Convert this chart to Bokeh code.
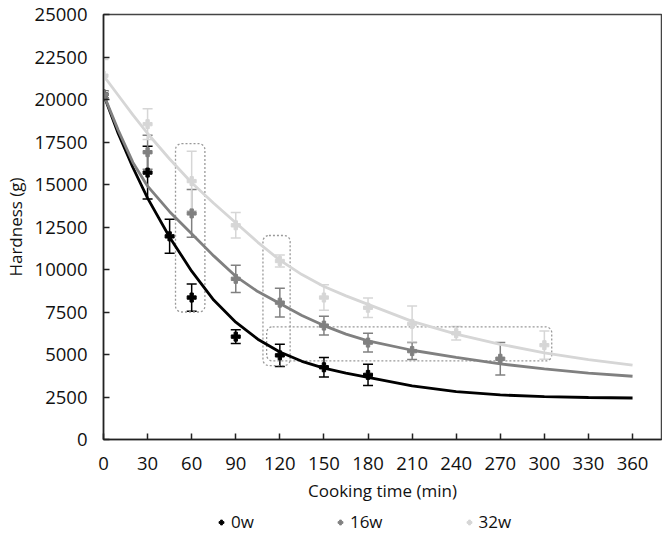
from bokeh.plotting import figure
from bokeh.layouts import column
from bokeh.models import (Range1d, FixedTicker, Whisker, ColumnDataSource, Legend,
                          LegendItem, TeeHead)
from bokeh.embed import file_html
from bokeh.resources import INLINE

# ---------------- data ----------------
series_names = ["0w", "16w", "32w"]

time_0w = [0, 30, 45, 60, 90, 120, 150, 180]
hard_0w = [20300, 15700, 11950, 8350, 6050, 4950, 4250, 3800]
err_0w = [200, 1550, 1000, 800, 400, 650, 580, 620]

time_16w = [0, 30, 60, 90, 120, 150, 180, 210, 270]
hard_16w = [20300, 16900, 13300, 9450, 8050, 6700, 5700, 5200, 4750]
err_16w = [200, 1000, 1400, 800, 850, 550, 550, 500, 950]

time_32w = [0, 30, 60, 90, 120, 150, 180, 210, 240, 300]
hard_32w = [21400, 18550, 15200, 12600, 10500, 8350, 7750, 6800, 6250, 5550]
err_32w = [950, 900, 1750, 750, 350, 750, 570, 1050, 400, 830]

# fitted curves
curve_time = [0, 10, 20, 30, 45, 60, 75, 90, 105, 120, 135, 150, 165, 180,
              210, 240, 270, 300, 330, 360]
curve_0w = [20300, 18000, 16000, 14200, 11900, 9900, 8200, 6900, 5900, 5150,
            4600, 4200, 3900, 3650, 3150, 2820, 2620, 2520, 2470, 2440]
curve_16w = [20300, 18200, 16300, 14900, 13400, 12100, 10800, 9600, 8700, 8000,
             7300, 6700, 6200, 5800, 5250, 4830, 4450, 4150, 3900, 3720]
curve_32w = [21400, 20250, 19100, 18000, 16500, 15100, 13900, 12750, 11600, 10550,
             9700, 9000, 8450, 7950, 6950, 6200, 5600, 5100, 4700, 4370]

# dotted highlight boxes (time range, hardness range)
box_left = [49, 108.5, 111]
box_right = [69, 127, 305]
box_bottom = [7500, 4350, 4620]
box_top = [17400, 12000, 6630]

x_ticks = list(range(0, 361, 30))
y_ticks = list(range(0, 25001, 2500))

# ---------------- figure ----------------
FONT = "Open Sans"
FS = "18.5px"
colors = ["#000000", "#808080", "#d6d6d6"]

p = figure(width=662, height=508, output_backend="svg", toolbar_location=None,
           x_range=Range1d(0, 379.7), y_range=Range1d(0, 25000),
           min_border_left=102, min_border_right=1, min_border_top=14,
           min_border_bottom=69)
p.xgrid.visible = False
p.ygrid.visible = False
p.outline_line_color = "#444444"
p.outline_line_width = 1.5

for ax in (p.xaxis[0], p.yaxis[0]):
    ax.axis_line_color = "#222222"
    ax.axis_line_width = 1.5
    ax.major_tick_line_color = "#222222"
    ax.major_tick_line_width = 1.5
    ax.major_tick_in = 6
    ax.major_tick_out = 0
    ax.minor_tick_line_color = None
    ax.major_label_text_font = FONT
    ax.major_label_text_font_size = FS
    ax.major_label_text_color = "#111111"
    ax.axis_label_text_font = FONT
    ax.axis_label_text_font_size = "17px"
    ax.axis_label_text_font_style = "normal"
    ax.axis_label_text_color = "#111111"

p.xaxis.ticker = FixedTicker(ticks=x_ticks)
p.yaxis.ticker = FixedTicker(ticks=y_ticks)
p.xaxis.axis_label = "Cooking time (min)"
p.yaxis.axis_label = "Hardness (g)"
p.yaxis.major_label_standoff = 16
p.xaxis.major_label_standoff = 17
p.yaxis.axis_label_standoff = 5
p.xaxis.axis_label_standoff = 6

# dotted boxes
p.quad(left=box_left, right=box_right, bottom=box_bottom, top=box_top,
       fill_alpha=0, line_color="#999999", line_dash="2 2", line_width=1.3,
       border_radius=6)

series = [
    (time_0w, hard_0w, err_0w, curve_0w),
    (time_16w, hard_16w, err_16w, curve_16w),
    (time_32w, hard_32w, err_32w, curve_32w),
]

for (t, v, e, c), col in zip(series, colors):
    p.line(curve_time, c, line_color=col, line_width=2.8)
    src = ColumnDataSource(dict(base=t, upper=[a + b for a, b in zip(v, e)],
                                lower=[a - b for a, b in zip(v, e)]))
    w = Whisker(source=src, base="base", upper="upper", lower="lower",
                line_color=col, line_width=1.5,
                upper_head=TeeHead(size=10, line_color=col, line_width=1.5),
                lower_head=TeeHead(size=10, line_color=col, line_width=1.5))
    p.add_layout(w)
    p.scatter(t, v, marker="plus", size=9, fill_color=col, line_color=col)

# ---------------- legend strip ----------------
lg = figure(width=662, height=28, output_backend="svg", toolbar_location=None,
            x_range=Range1d(0, 1), y_range=Range1d(0, 1),
            min_border_left=102, min_border_right=1, min_border_top=0,
            min_border_bottom=0)
lg.axis.visible = False
lg.xgrid.visible = False
lg.ygrid.visible = False
lg.outline_line_color = None

nan = float("nan")
items = []
for col, name in zip(colors, series_names):
    r = lg.scatter(x=[nan], y=[nan], marker="plus", size=9,
                   fill_color=col, line_color=col)
    items.append(LegendItem(label=name, renderers=[r]))

legend = Legend(items=items, orientation="horizontal", location=(112, 3),
                border_line_alpha=0, background_fill_alpha=0, spacing=80,
                label_text_font=FONT, label_text_font_size="17px",
                label_text_color="#111111", glyph_width=12, label_standoff=4,
                padding=0, margin=0)
lg.add_layout(legend)

layout = column(p, lg, spacing=0)
open("out.html", "w").write(file_html(layout, INLINE))
